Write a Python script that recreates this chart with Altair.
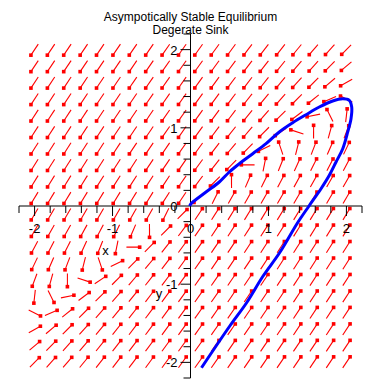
import math
import altair as alt
import pandas as pd

# ---------------- data ----------------
TITLE = ["Asympotically Stable Equilibrium", "Degerate Sink"]

# linear system behind the direction field: x' = a*x + b*y, y' = c*x + d*y
SYS_ROW_X = [1.5, -2.5]
SYS_ROW_Y = [2.5, -3.5]

# 20 x 20 grid of arrow positions
GRID_X = [-2.0, -1.789, -1.579, -1.368, -1.158, -0.947, -0.737, -0.526, -0.316, -0.105,
          0.105, 0.316, 0.526, 0.737, 0.947, 1.158, 1.368, 1.579, 1.789, 2.0]
GRID_Y = [-2.0, -1.789, -1.579, -1.368, -1.158, -0.947, -0.737, -0.526, -0.316, -0.105,
          0.105, 0.316, 0.526, 0.737, 0.947, 1.158, 1.368, 1.579, 1.789, 2.0]

# solution curve
TRAJ_X = [0.141, 0.504, 0.722, 0.927, 1.145, 1.376, 1.520, 1.674, 1.781, 1.867, 1.953,
          2.017, 2.059, 2.068, 2.037, 1.953, 1.824, 1.652, 1.482, 1.311, 1.139, 0.969,
          0.798, 0.626, 0.498, 0.369, 0.199, 0.006, -0.01]
TRAJ_Y = [-2.069, -1.535, -1.234, -0.902, -0.595, -0.211, 0.000, 0.221, 0.393, 0.563, 0.733,
          0.947, 1.117, 1.266, 1.352, 1.372, 1.343, 1.266, 1.168, 1.065, 0.947, 0.797,
          0.669, 0.541, 0.435, 0.307, 0.179, 0.029, 0.0]

MINOR_TICKS = [-2.2, -1.8, -1.6, -1.4, -1.2, -0.8, -0.6, -0.4, -0.2,
               0.2, 0.4, 0.6, 0.8, 1.2, 1.4, 1.6, 1.8, 2.2]
MAJOR_TICKS = [-2, -1, 1, 2]
LABEL_VALUES = [-2, -1, 0, 1, 2]
LABEL_TEXTS = ["-2", "-1", "0", "1", "2"]
AXIS_MIN, AXIS_MAX = -2.2, 2.2

NAME_TEXTS = ["x", "y"]
NAME_X = [-1.09, -0.404]
NAME_Y = [-0.627, -1.177]

# ---------------- styling ----------------
RED = "#FF0000"
BLUE = "#0000FF"
FONT = "Liberation Sans"
ARROW_LEN = 0.17

# ---------------- tables ----------------
arrows = []
for gy in GRID_Y:
    for gx in GRID_X:
        fx = SYS_ROW_X[0] * gx + SYS_ROW_X[1] * gy
        fy = SYS_ROW_Y[0] * gx + SYS_ROW_Y[1] * gy
        n = math.hypot(fx, fy) or 1.0
        ux, uy = fx / n, fy / n
        arrows.append({
            "x0": gx - ux * ARROW_LEN / 2, "y0": gy - uy * ARROW_LEN / 2,
            "x1": gx + ux * ARROW_LEN / 2, "y1": gy + uy * ARROW_LEN / 2,
        })
arrows = pd.DataFrame(arrows)

traj = pd.DataFrame({"x": TRAJ_X, "y": TRAJ_Y, "i": list(range(len(TRAJ_X)))})
minor = pd.DataFrame({"v": MINOR_TICKS, "z": [0.0] * len(MINOR_TICKS)})
major = pd.DataFrame({"v": MAJOR_TICKS, "z": [0.0] * len(MAJOR_TICKS)})
labels = pd.DataFrame({"v": LABEL_VALUES, "t": LABEL_TEXTS, "z": [0.0] * len(LABEL_VALUES)})
axes_df = pd.DataFrame({"a": [AXIS_MIN], "b": [AXIS_MAX], "z": [0.0]})
names = pd.DataFrame({"x": NAME_X, "y": NAME_Y, "t": NAME_TEXTS})

sc = alt.Scale(domain=[AXIS_MIN, AXIS_MAX], nice=False, zero=False)


def X(f):
    return alt.X(f, type="quantitative", scale=sc, axis=None)


def Y(f):
    return alt.Y(f, type="quantitative", scale=sc, axis=None)


arrow_lines = alt.Chart(arrows).mark_rule(color=RED, strokeWidth=1.1).encode(
    x=X("x0"), y=Y("y0"), x2="x1", y2="y1")
arrow_heads = alt.Chart(arrows).mark_point(
    shape="square", filled=True, color=RED, size=13, opacity=1).encode(
    x=X("x1"), y=Y("y1"))

x_axis = alt.Chart(axes_df).mark_rule(color="black", strokeWidth=1).encode(
    x=X("a"), x2="b", y=Y("z"))
y_axis = alt.Chart(axes_df).mark_rule(color="black", strokeWidth=1).encode(
    y=Y("a"), y2="b", x=X("z"))

x_minor = alt.Chart(minor).mark_rule(color="black", y2Offset=7).encode(
    x=X("v"), y=Y("z"), y2="z")
x_major = alt.Chart(major).mark_rule(color="black", y2Offset=10).encode(
    x=X("v"), y=Y("z"), y2="z")
y_minor = alt.Chart(minor).mark_rule(color="black", x2Offset=-7).encode(
    y=Y("v"), x=X("z"), x2="z")
y_major = alt.Chart(major).mark_rule(color="black", x2Offset=-10).encode(
    y=Y("v"), x=X("z"), x2="z")

x_labels = alt.Chart(labels).mark_text(
    font=FONT, fontSize=13, color="black", align="center", baseline="alphabetic", dy=27).encode(
    x=X("v"), y=Y("z"), text="t")
y_labels = alt.Chart(labels).mark_text(
    font=FONT, fontSize=13, color="black", align="right", baseline="alphabetic", dx=-13, dy=5).encode(
    y=Y("v"), x=X("z"), text="t")

name_labels = alt.Chart(names).mark_text(
    font=FONT, fontSize=13, color="black", align="center", baseline="alphabetic").encode(
    x=X("x"), y=Y("y"), text="t")

curve = alt.Chart(traj).mark_line(color=BLUE, strokeWidth=3, interpolate="catmull-rom").encode(
    x=X("x"), y=Y("y"), order="i:Q")

chart = alt.layer(
    arrow_lines, arrow_heads, x_axis, y_axis, x_minor, x_major, y_minor, y_major,
    x_labels, y_labels, name_labels, curve
).properties(
    width=343, height=344,
    title=alt.TitleParams(text=TITLE, font=FONT, fontSize=12, fontWeight="normal",
                          color="black", anchor="middle", baseline="bottom",
                          offset=1, dy=16, lineHeight=13),
    autosize=alt.AutoSizeParams(type="none"),
    padding={"left": 11, "top": 26, "right": 10, "bottom": 4},
).configure_view(strokeWidth=0)

chart.save("out.html", embed_options={"renderer": "svg", "actions": False})
